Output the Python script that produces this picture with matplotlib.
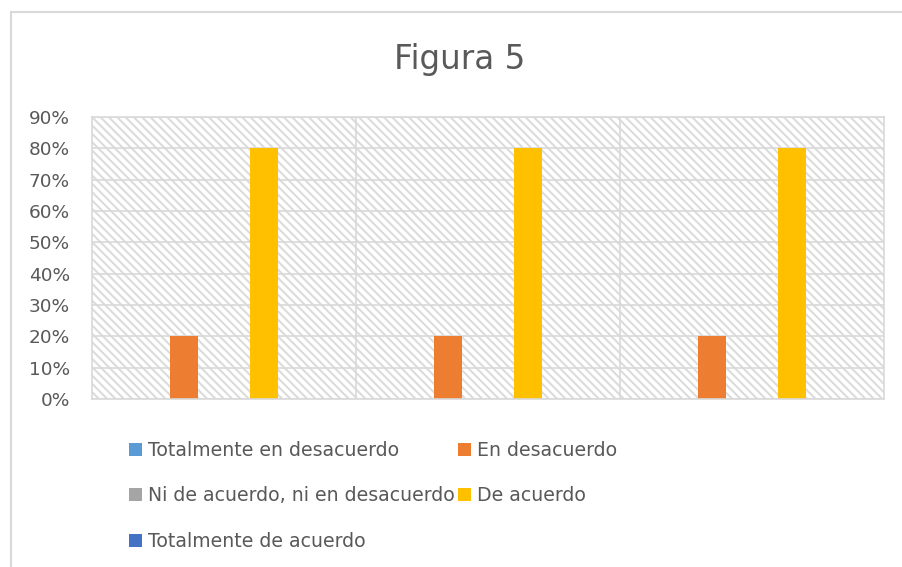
import matplotlib.pyplot as plt
from matplotlib.patches import Rectangle
from matplotlib.ticker import PercentFormatter

# Chart data.
categories = ["", "", ""]
series_names = [
    "Totalmente en desacuerdo",
    "En desacuerdo",
    "Ni de acuerdo, ni en desacuerdo",
    "De acuerdo",
    "Totalmente de acuerdo",
]
series_values = [
    [0.0, 0.0, 0.0],
    [0.2, 0.2, 0.2],
    [0.0, 0.0, 0.0],
    [0.8, 0.8, 0.8],
    [0.0, 0.0, 0.0],
]
y_ticks = [0.0, 0.1, 0.2, 0.3, 0.4, 0.5, 0.6, 0.7, 0.8, 0.9]

# Office colours.
series_colours = ["#5B9BD5", "#ED7D31", "#A5A5A5", "#FFC000", "#4472C4"]
grid_grey = "#D9D9D9"
text_grey = "#595959"

plt.rcParams["hatch.linewidth"] = 1.5

W, H = 903, 567
fig = plt.figure(figsize=(W / 100, H / 100), dpi=100)
ax = fig.add_axes([92 / W, 1 - 399 / H, (884 - 92) / W, (399 - 117) / H])

# Chart frame (cut off on the right and bottom in the original).
fig.patches.append(Rectangle((11 / W, -0.1), 1.2, 1.1 - 12 / H, transform=fig.transFigure,
                             facecolor="none", edgecolor=grid_grey, linewidth=1.5))

# Hatched plot area background.
ax.add_patch(Rectangle((0, 0), 1, 1, transform=ax.transAxes, facecolor="white",
                       edgecolor="#DCDCDC", linewidth=0, hatch="\\\\\\\\", zorder=0.1))

bar_step = 0.1515
bar_width = 0.106
n = len(series_names)
for j, (name, vals) in enumerate(zip(series_names, series_values)):
    xs = [i + (j - (n - 1) / 2) * bar_step for i in range(len(categories))]
    ax.bar(xs, vals, width=bar_width, color=series_colours[j], label=name, zorder=2)

ax.set_xlim(-0.5, len(categories) - 0.5)
ax.set_ylim(0, 0.9)
ax.set_yticks(y_ticks)
ax.yaxis.set_major_formatter(PercentFormatter(1.0, decimals=0))
ax.set_xticks(range(len(categories)))
ax.set_xticklabels(categories)
ax.tick_params(axis="both", length=0, labelsize=13.3, labelcolor=text_grey)
ax.tick_params(axis="y", pad=16)

ax.grid(axis="y", color=grid_grey, linewidth=1.2, zorder=0.5)
for sep in range(1, len(categories)):
    ax.axvline(sep - 0.5, color=grid_grey, linewidth=1.2, zorder=0.5)
for s in ax.spines.values():
    s.set_color(grid_grey)
    s.set_linewidth(1.2)

fig.text(460 / W, 1 - 69 / H, "Figura 5", ha="center", va="baseline",
         fontsize=23.5, color=text_grey)

# Legend filled row by row.
handles, labels = ax.get_legend_handles_labels()
order = [0, 2, 4, 1, 3]
leg = fig.legend([handles[k] for k in order], [labels[k] for k in order],
                 ncol=2, loc="upper left", bbox_to_anchor=(129 / W, 1 - 441 / H),
                 frameon=False, fontsize=13.6, labelcolor=text_grey,
                 handlelength=0.69, handleheight=0.69, handletextpad=0.3,
                 columnspacing=0.2, labelspacing=1.4, borderaxespad=0, borderpad=0)

fig.savefig("out.png", dpi=100)
